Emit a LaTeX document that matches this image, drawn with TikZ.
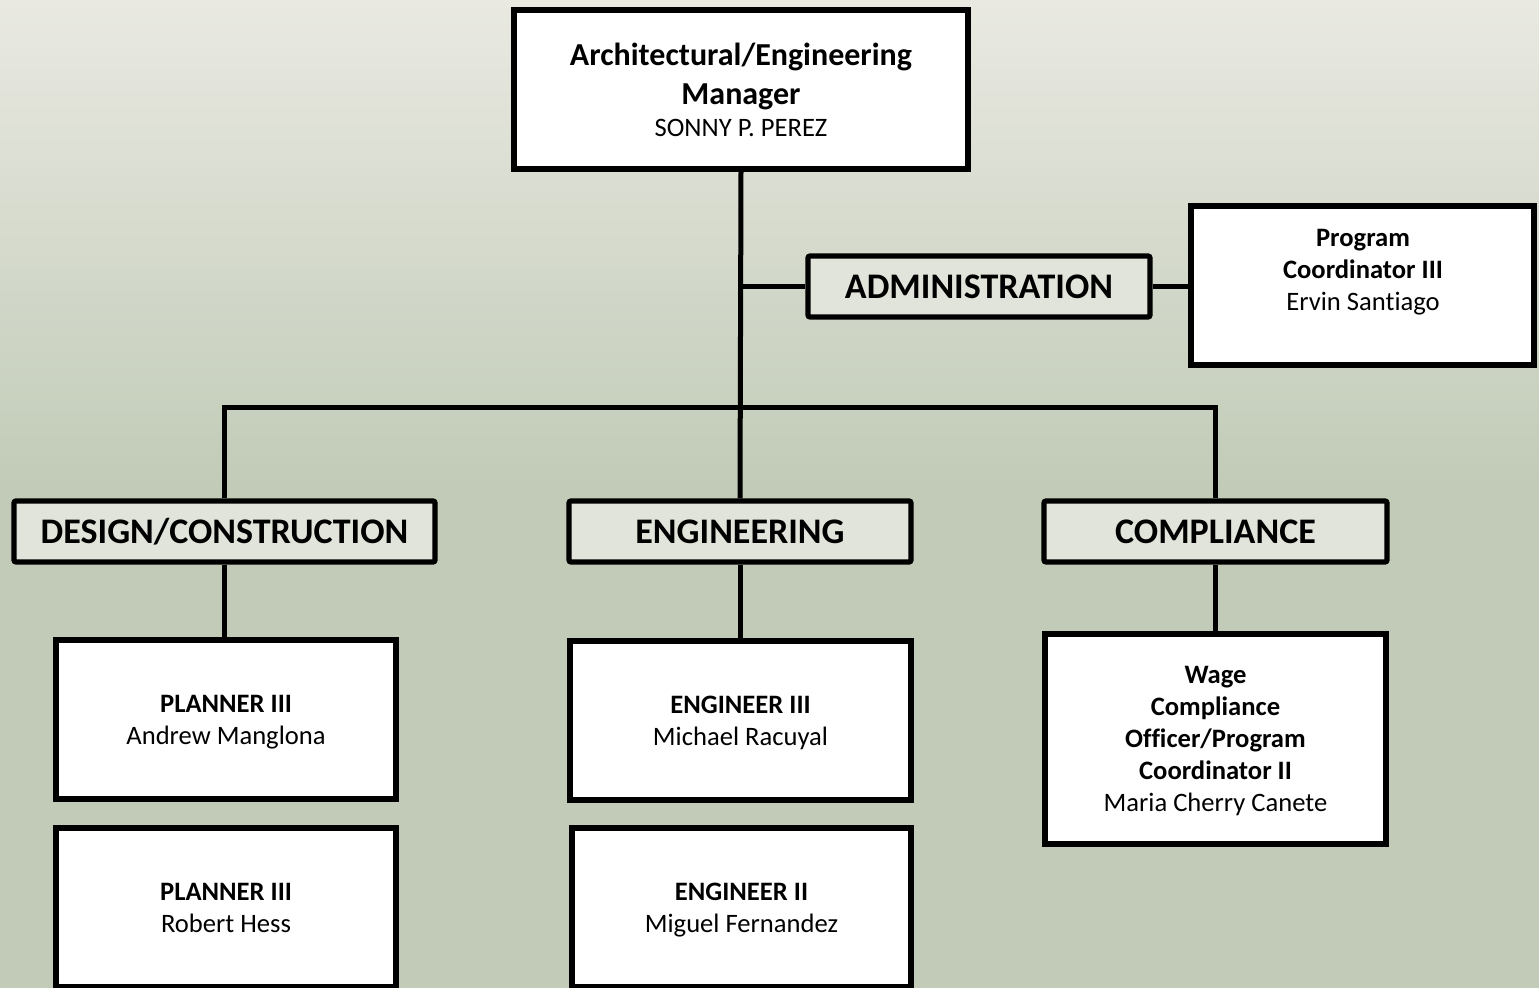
\documentclass[tikz,border=0pt]{standalone}
\usepackage{fontspec}
\setmainfont[Ligatures=NoCommon]{Carlito}
\usetikzlibrary{positioning}
\definecolor{bgtop}{HTML}{E9E9E2}
\definecolor{bgbot}{HTML}{C1CBB7}
\definecolor{deptfill}{HTML}{E1E4DA}
\newcommand{\smallf}{\fontsize{13.3}{16}\selectfont}
\newcommand{\bigf}{\fontsize{16}{19.5}\selectfont\bfseries}
\begin{document}
\begin{tikzpicture}[x=0.5pt, y=0.5pt,
	bx/.style={draw, line width=2.75pt, fill=white, inner sep=0pt, align=center, text depth=0pt, font=\smallf},
	dept/.style={draw, line width=2.6pt, fill=deptfill, rounded corners=1pt, inner sep=0pt,
		minimum height=30.5pt, font=\fontsize{18}{21}\selectfont\bfseries},
	conn/.style={line width=2.5pt}]
	\useasboundingbox (0,0) rectangle (1539,-988);
	\clip (0,0) rectangle (1539,-988);
	\shade[top color=bgtop, bottom color=bgbot] (0,0) rectangle (1539,-490);
	\fill[bgbot] (0,-490) rectangle (1539,-988);
	% top
	\node[bx, minimum width=227pt, minimum height=79.5pt] (mgr) at (741,-89.5)
		{\bigf Architectural/Engineering\\[3.5pt] \bigf Manager\\ \smallf SONNY P. PEREZ};
	\node[dept, minimum width=171pt] (adm) at (979,-286.5) {ADMINISTRATION};
	\node[bx, minimum width=171.5pt, minimum height=79.5pt] (prog) at (1362.5,-285.5) {};
	\node[align=center, font=\smallf] (progt) at (1363,-272) {\textbf{Program}\\ \textbf{Coordinator III}\\ Ervin Santiago};
	% departments
	\node[dept, minimum width=210.5pt] (des) at (224.5,-531.5) {DESIGN/CONSTRUCTION};
	\node[dept, minimum width=171pt] (eng) at (740,-531.5) {ENGINEERING};
	\node[dept, minimum width=171.5pt] (comp) at (1215.5,-531.5) {COMPLIANCE};
	\coordinate (bar) at (741,-408);
	% staff
	\node[bx, minimum width=170pt, minimum height=79.5pt] (pl1) at (226,-719.5) {\textbf{PLANNER III}\\ Andrew Manglona};
	\node[bx, minimum width=170pt, minimum height=79.5pt] (pl2) at (226,-907.5) {\textbf{PLANNER III}\\ Robert Hess};
	\node[bx, minimum width=170.5pt, minimum height=79.5pt] (en3) at (740.5,-720.5) {\textbf{ENGINEER III}\\ Michael Racuyal};
	\node[bx, minimum width=169.5pt, minimum height=79.5pt] (en2) at (741.5,-907.5) {\textbf{ENGINEER II}\\ Miguel Fernandez};
	\node[bx, minimum width=170.5pt, minimum height=105pt] (wage) at (1215.5,-739)
		{\textbf{Wage}\\ \textbf{Compliance}\\ \textbf{Officer/Program}\\ \textbf{Coordinator II}\\ Maria Cherry Canete};
	% lines
	\draw[conn] (mgr.south) to (eng.north);
	\draw[conn] (adm.west -| mgr.south) to (adm.west);
	\draw[conn] (adm.east) to (adm.east -| prog.west);
	\draw[conn] (des.north) |- (bar) -| (comp.north);
	\draw[conn] (des.south) to (pl1.north -| des.south);
	\draw[conn] (eng.south) to (en3.north -| eng.south);
	\draw[conn] (comp.south) to (wage.north -| comp.south);
\end{tikzpicture}
\end{document}
